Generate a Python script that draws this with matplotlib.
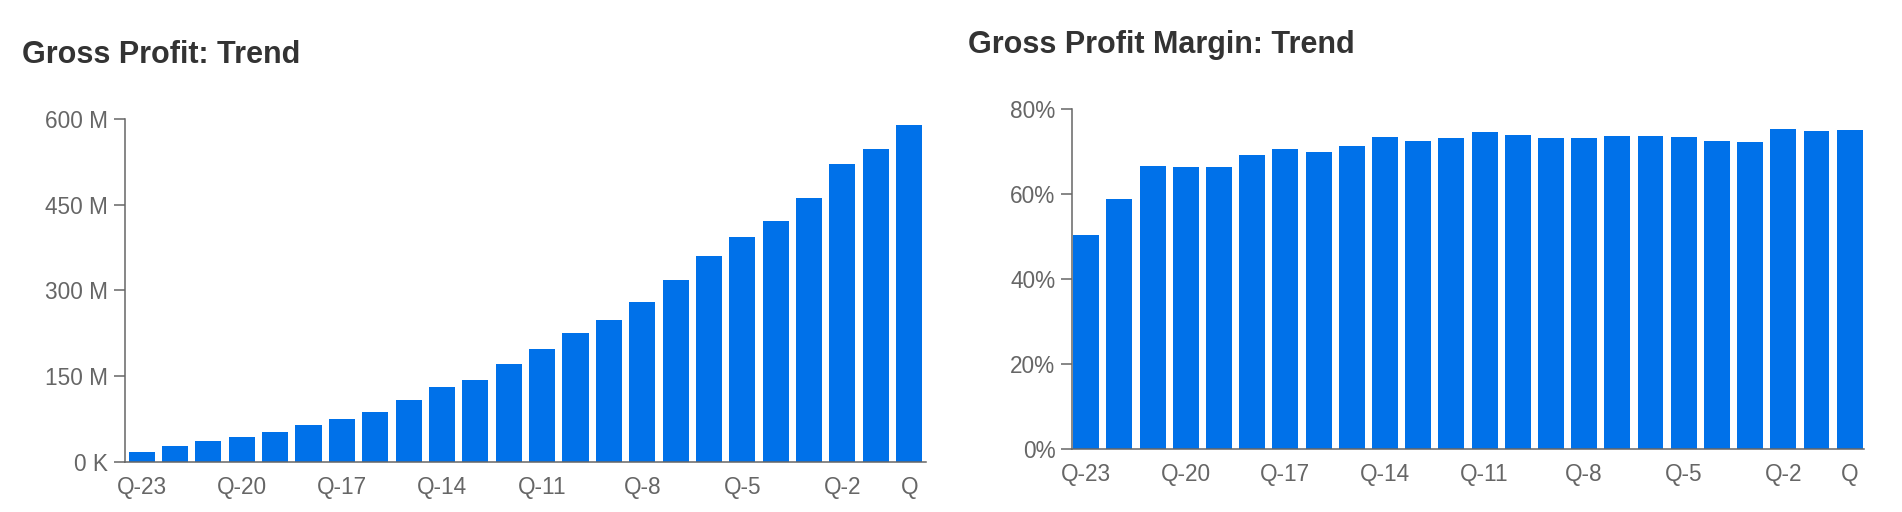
import matplotlib
matplotlib.use("Agg")
import matplotlib.pyplot as plt

# quarters, oldest first
quarters = ["Q-23", "Q-22", "Q-21", "Q-20", "Q-19", "Q-18", "Q-17", "Q-16",
            "Q-15", "Q-14", "Q-13", "Q-12", "Q-11", "Q-10", "Q-9", "Q-8",
            "Q-7", "Q-6", "Q-5", "Q-4", "Q-3", "Q-2", "Q-1", "Q"]
shown_labels = ["Q-23", "Q-20", "Q-17", "Q-14", "Q-11", "Q-8", "Q-5", "Q-2", "Q"]

# gross profit, millions
gross_profit = [18, 27.5, 36, 43, 52.5, 65, 76, 87, 108, 131, 144, 171,
                198, 225, 248, 279, 319, 360, 394, 422, 461, 522, 548, 589]

# gross profit margin, percent
gp_margin = [50.4, 58.8, 66.5, 66.3, 66.3, 69.3, 70.7, 70.0, 71.3, 73.5, 72.5, 73.3,
             74.6, 73.9, 73.1, 73.1, 73.7, 73.7, 73.5, 72.6, 72.2, 75.4, 74.8, 75.0]

gp_ticks = [0, 150, 300, 450, 600]
gp_tick_labels = ["0 K", "150 M", "300 M", "450 M", "600 M"]
margin_ticks = [0, 20, 40, 60, 80]
margin_tick_labels = ["0%", "20%", "40%", "60%", "80%"]

blue = "#0071E9"
grey = "#666666"
plt.rcParams["font.family"] = ["Liberation Sans", "DejaVu Sans"]

fig = plt.figure(figsize=(19.02, 5.12), dpi=100)
ax1 = fig.add_axes([0.0657, 0.0977, 0.4211, 0.670])
ax2 = fig.add_axes([0.5636, 0.1230, 0.4164, 0.664])

x = list(range(len(quarters)))
shown_pos = [quarters.index(q) for q in shown_labels]


def style(ax, ticks, labels, top):
    ax.set_ylim(0, top)
    ax.set_yticks(ticks)
    ax.set_yticklabels(labels)
    ax.set_xticks(shown_pos)
    ax.set_xticklabels(shown_labels)
    for side in ["top", "right"]:
        ax.spines[side].set_visible(False)
    for side in ["left", "bottom"]:
        ax.spines[side].set_color(grey)
        ax.spines[side].set_linewidth(1.1)
    ax.tick_params(axis="y", colors=grey, labelsize=16.3, length=8, width=1.1, pad=4)
    ax.tick_params(axis="x", colors=grey, labelsize=16.3, length=0, pad=10)


ax1.bar(x, gross_profit, width=0.78, color=blue)
ax1.set_xlim(-0.5, 23.5)
style(ax1, gp_ticks, gp_tick_labels, 600)

ax2.bar(x, gp_margin, width=0.78, color=blue)
ax2.set_xlim(-0.43, 23.43)
style(ax2, margin_ticks, margin_tick_labels, 80)

fig.text(22 / 1902, 1 - 63 / 512, "Gross Profit: Trend", fontsize=22,
         fontweight="bold", color="#333333", va="baseline", ha="left")
fig.text(968 / 1902, 1 - 53 / 512, "Gross Profit Margin: Trend", fontsize=22,
         fontweight="bold", color="#333333", va="baseline", ha="left")

fig.savefig("out.png", dpi=100)
